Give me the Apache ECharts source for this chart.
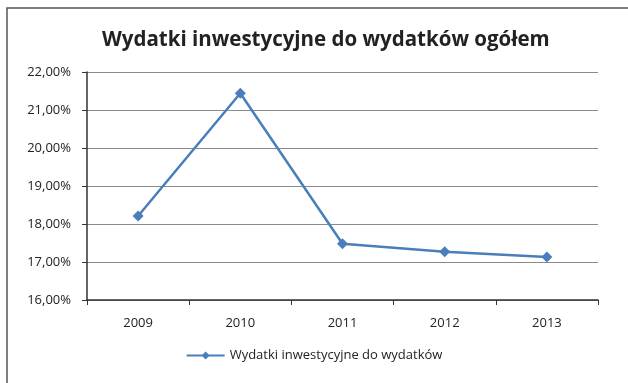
<!DOCTYPE html>
<html>
<head>
<meta charset="utf-8">
<script src="https://cdn.jsdelivr.net/npm/echarts@6/dist/echarts.min.js"></script>
<style>
  html, body { margin: 0; padding: 0; background: #fff; }
  #chart { width: 628px; height: 383px; }
</style>
</head>
<body>
<div id="chart"></div>
<script>
const years = ['2009', '2010', '2011', '2012', '2013']
const shares = [18.21, 21.44, 17.48, 17.27, 17.13]
const seriesName = 'Wydatki inwestycyjne do wydatków'
const chartTitle = 'Wydatki inwestycyjne do wydatków ogółem'

const font = 'Open Sans'
const chart = echarts.init(document.getElementById('chart'))
chart.setOption({
  animation: false,
  graphic: [
    {
      type: 'rect',
      shape: { x: 7, y: 8, width: 640, height: 400 },
      style: { fill: 'none', stroke: '#555', lineWidth: 1.5 },
      silent: true
    }
  ],
  title: {
    text: chartTitle,
    left: 97,
    top: 25,
    textStyle: { fontFamily: font, fontWeight: 'bold', fontSize: 20.5, color: '#222' }
  },
  legend: {
    bottom: 16,
    left: 'center',
    itemWidth: 38,
    itemHeight: 10,
    itemGap: 2,
    textStyle: { fontFamily: font, fontSize: 13, color: '#222' },
    data: [seriesName]
  },
  grid: {
    left: 87,
    right: 30,
    top: 72,
    bottom: 83
  },
  xAxis: {
    type: 'category',
    data: years,
    boundaryGap: true,
    axisLine: { lineStyle: { color: '#333', width: 1.5 } },
    axisTick: { show: true, length: 5, lineStyle: { color: '#333' } },
    axisLabel: { fontFamily: font, fontSize: 13, color: '#222', margin: 17 }
  },
  yAxis: {
    type: 'value',
    min: 16,
    max: 22,
    interval: 1,
    axisLine: { show: true, lineStyle: { color: '#333', width: 1.5 } },
    axisTick: { show: true, length: 5, lineStyle: { color: '#333' } },
    axisLabel: {
      fontFamily: font,
      fontSize: 13,
      color: '#222',
      margin: 16,
      formatter: v => v.toFixed(2).replace('.', ',') + '%'
    },
    splitLine: { lineStyle: { color: '#8a8a8a', width: 1 } }
  },
  series: [
    {
      name: seriesName,
      type: 'line',
      data: shares,
      symbol: 'diamond',
      symbolSize: 11,
      lineStyle: { color: '#4a7ebb', width: 2.5 },
      itemStyle: { color: '#4a7ebb' }
    }
  ]
})
</script>
</body>
</html>
